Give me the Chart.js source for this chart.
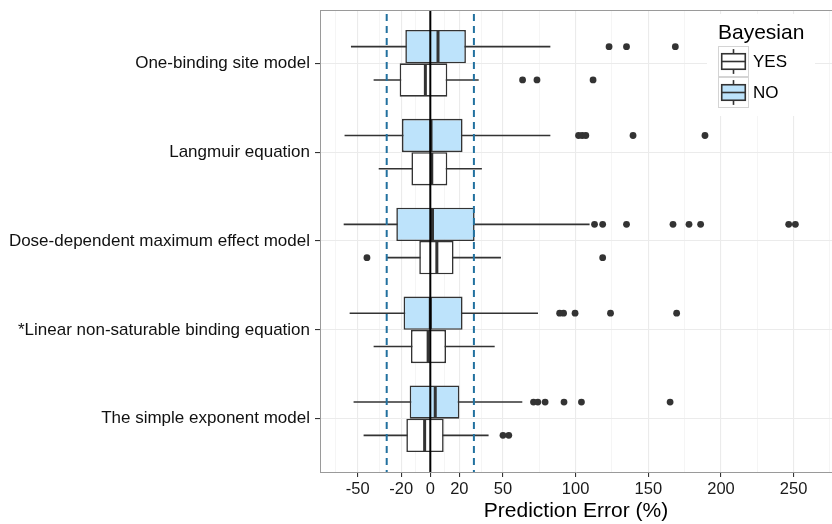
<!DOCTYPE html>
<html><head><meta charset="utf-8">
<script src="https://cdn.jsdelivr.net/npm/chart.js@4.4.1/dist/chart.umd.min.js"></script>
<style>html,body{margin:0;padding:0;background:#fff;overflow:hidden}#wrap{position:relative;width:832px;height:524px;overflow:hidden}</style>
</head><body><div id="wrap"><canvas id="c" width="836" height="524"></canvas></div>
<script>
// ---- data ----
const categories = ["One-binding site model", "Langmuir equation", "Dose-dependent maximum effect model", "*Linear non-saturable binding equation", "The simple exponent model"];
const noLow    = [-54.6, -59.0, -59.6, -55.5, -52.8];
const noQ1     = [-17.2, -19.5, -23.4, -18.4, -14.2];
const noMedian = [5.3, 0.5, 1.5, 0.0, 3.4];
const noQ3     = [24.5, 22.2, 30.5, 22.2, 20.0];
const noHigh   = [82.6, 82.6, 109.6, 74.1, 63.3];
const noOutliers = [[123, 135, 168.6], [102, 104.5, 107, 139.5, 189], [113, 118.6, 135, 167, 178, 186, 246.6, 251.2], [89, 91.7, 99.6, 124, 169.5], [71, 74, 79, 92, 104, 165]];
const yesLow    = [-39.0, -35.5, -30.3, -39.0, -45.9];
const yesQ1     = [-21.1, -13.0, -7.6, -13.3, -16.5];
const yesMedian = [-3.4, 1.0, 4.5, -1.5, -3.9];
const yesQ3     = [11.7, 11.7, 16.0, 10.8, 9.2];
const yesHigh   = [33.3, 35.5, 48.6, 44.3, 40.1];
const yesOutliers = [[63.5, 73.4, 112], [], [-43.6, 118.6], [], [50, 54]];
const majorTicks = [-50, -20, 0, 20, 50, 100, 150, 200, 250];
const minorTicks = [-65, -35, -10, 10, 35, 75, 125, 175, 225, 275];
const referenceLines = [-30, 30];
const zeroLine = 0;
const legendTitle = "Bayesian";
const groupNames = ["NO", "YES"];
const xTitle = "Prediction Error (%)";

// ---- styles ----
const FONT = "'Liberation Sans', Arial, Helvetica, sans-serif";
const NO_FILL = '#bde3fb';
const YES_FILL = '#ffffff';
const INK = '#333333';
const DODGE = 0.1875;
Chart.defaults.font.family = FONT;

const groups = [
  {name: groupNames[0], low: noLow, q1: noQ1, med: noMedian, q3: noQ3, high: noHigh, out: noOutliers, fill: NO_FILL, off: -DODGE},
  {name: groupNames[1], low: yesLow, q1: yesQ1, med: yesMedian, q3: yesQ3, high: yesHigh, out: yesOutliers, fill: YES_FILL, off: DODGE}
];

const datasets = groups.map(g => ({
  type: 'bar', label: g.name, xAxisID: 'x', yAxisID: 'y',
  data: categories.map((c, i) => ({x: [g.q1[i], g.q3[i]], y: i + 1})),
  backgroundColor: g.fill, borderColor: INK, borderWidth: 1.6, borderSkipped: false,
  categoryPercentage: 0.75, barPercentage: 1
}));
const outPts = [];
groups.forEach(g => categories.forEach((c, i) => g.out[i].forEach(v => outPts.push({x: v, y: i + 1 + g.off}))));
datasets.push({type: 'scatter', label: 'outliers', xAxisID: 'x', yAxisID: 'y', indexAxis: 'x',
  data: outPts, pointRadius: 3.4, pointBackgroundColor: INK, pointBorderWidth: 0, showLine: false});

const isMajor = v => majorTicks.includes(v);

const boxParts = {
  id: 'boxParts',
  beforeDatasetsDraw(chart) {
    const ctx = chart.ctx, xs = chart.scales.x;
    ctx.save();
    ctx.strokeStyle = INK; ctx.lineWidth = 1.6;
    groups.forEach((g, gi) => {
      const meta = chart.getDatasetMeta(gi);
      categories.forEach((c, i) => {
        const el = meta.data[i];
        ctx.beginPath();
        ctx.moveTo(xs.getPixelForValue(g.low[i]), el.y);
        ctx.lineTo(xs.getPixelForValue(g.high[i]), el.y);
        ctx.stroke();
      });
    });
    ctx.restore();
  },
  afterDatasetsDraw(chart) {
    const ctx = chart.ctx, xs = chart.scales.x, a = chart.chartArea;
    ctx.save();
    ctx.beginPath(); ctx.rect(a.left, a.top, a.right - a.left, a.bottom - a.top); ctx.clip();
    ctx.strokeStyle = INK; ctx.lineWidth = 3;
    groups.forEach((g, gi) => {
      const meta = chart.getDatasetMeta(gi);
      categories.forEach((c, i) => {
        const el = meta.data[i];
        const px = xs.getPixelForValue(g.med[i]);
        ctx.beginPath();
        ctx.moveTo(px, el.y - el.height / 2 + 0.8);
        ctx.lineTo(px, el.y + el.height / 2 - 0.8);
        ctx.stroke();
      });
    });
    ctx.strokeStyle = '#22719f'; ctx.lineWidth = 2; ctx.setLineDash([7, 5]);
    referenceLines.forEach(v => {
      const px = xs.getPixelForValue(v);
      ctx.beginPath(); ctx.moveTo(px, a.top + 4); ctx.lineTo(px, a.bottom); ctx.stroke();
    });
    ctx.setLineDash([]);
    ctx.strokeStyle = '#000'; ctx.lineWidth = 2;
    const zx = xs.getPixelForValue(zeroLine);
    ctx.beginPath(); ctx.moveTo(zx, a.top); ctx.lineTo(zx, a.bottom); ctx.stroke();
    ctx.restore();
    ctx.save();
    ctx.strokeStyle = '#9a9a9a'; ctx.lineWidth = 1;
    ctx.beginPath(); ctx.moveTo(a.left, a.top + 0.5); ctx.lineTo(a.right, a.top + 0.5); ctx.stroke();
    ctx.restore();
  },
  afterDraw(chart) {
    const ctx = chart.ctx;
    ctx.save();
    ctx.fillStyle = '#fff';
    ctx.fillRect(707, 14, 108, 102);
    ctx.fillStyle = '#000';
    ctx.font = '21px ' + FONT;
    ctx.textBaseline = 'alphabetic'; ctx.textAlign = 'left';
    ctx.fillText(legendTitle, 718, 39);
    const order = [groups[1], groups[0]];
    order.forEach((g, k) => {
      const kx = 718, ky = 46 + k * 31, ks = 31;
      ctx.fillStyle = '#fff'; ctx.fillRect(kx, ky, ks, ks);
      ctx.strokeStyle = '#d4d4d4'; ctx.lineWidth = 1;
      ctx.strokeRect(kx + 0.5, ky + 0.5, ks - 1, ks - 1);
      const cx = kx + ks / 2;
      ctx.strokeStyle = INK; ctx.lineWidth = 1.6;
      ctx.beginPath(); ctx.moveTo(cx, ky + ks * 0.1); ctx.lineTo(cx, ky + ks * 0.9); ctx.stroke();
      ctx.fillStyle = g.fill;
      ctx.fillRect(kx + ks * 0.12, ky + ks * 0.25, ks * 0.76, ks * 0.5);
      ctx.strokeRect(kx + ks * 0.12, ky + ks * 0.25, ks * 0.76, ks * 0.5);
      ctx.beginPath(); ctx.moveTo(kx + ks * 0.12, ky + ks / 2); ctx.lineTo(kx + ks * 0.88, ky + ks / 2); ctx.stroke();
      ctx.fillStyle = '#000';
      ctx.font = '17px ' + FONT;
      ctx.textBaseline = 'middle';
      ctx.fillText(g.name, 753, ky + ks / 2 + 1);
    });
    ctx.restore();
  }
};

new Chart(document.getElementById('c'), {
  type: 'bar',
  data: {datasets},
  options: {
    indexAxis: 'y',
    responsive: false, animation: false, devicePixelRatio: 1,
    layout: {padding: {top: 10, right: 0, bottom: 0, left: 0}},
    plugins: {legend: {display: false}, tooltip: {enabled: false}},
    scales: {
      x: {
        type: 'linear', position: 'bottom', min: -75.9, max: 276.4, offset: false,
        afterBuildTicks: s => { s.ticks = majorTicks.concat(minorTicks).sort((p, q) => p - q).map(v => ({value: v})); },
        ticks: {autoSkip: false, maxRotation: 0, color: '#1a1a1a', font: {size: 16.5}, padding: 3,
          callback: v => isMajor(v) ? String(v) : ''},
        grid: {
          offset: false,
          color: c => (c.tick && isMajor(c.tick.value)) ? '#ebebeb' : '#f3f3f3',
          lineWidth: c => (c.tick && isMajor(c.tick.value)) ? 1.1 : 0.8,
          tickColor: c => (c.tick && isMajor(c.tick.value)) ? INK : 'rgba(0,0,0,0)',
          tickLength: 5, drawTicks: true
        },
        border: {display: true, color: '#9a9a9a', width: 1},
        title: {display: true, text: xTitle, color: '#000', font: {size: 21}, padding: {top: 0, bottom: 0}},
        afterFit: s => { s.height = 52; s.paddingLeft = 0; s.paddingRight = 0; }
      },
      y: {
        type: 'linear', position: 'left', min: 0.4, max: 5.6, reverse: true, offset: false,
        afterBuildTicks: s => { s.ticks = categories.map((c, i) => ({value: i + 1})); },
        ticks: {autoSkip: false, color: '#111', font: {size: 17}, padding: 5,
          callback: v => categories[Math.round(v) - 1]},
        grid: {offset: false, color: '#ebebeb', lineWidth: 1.1, tickColor: INK, tickLength: 5},
        border: {display: true, color: '#9a9a9a', width: 1},
        afterFit: s => { s.width = 320; s.paddingTop = 0; s.paddingBottom = 0; }
      }
    }
  },
  plugins: [boxParts]
});
</script></body></html>
